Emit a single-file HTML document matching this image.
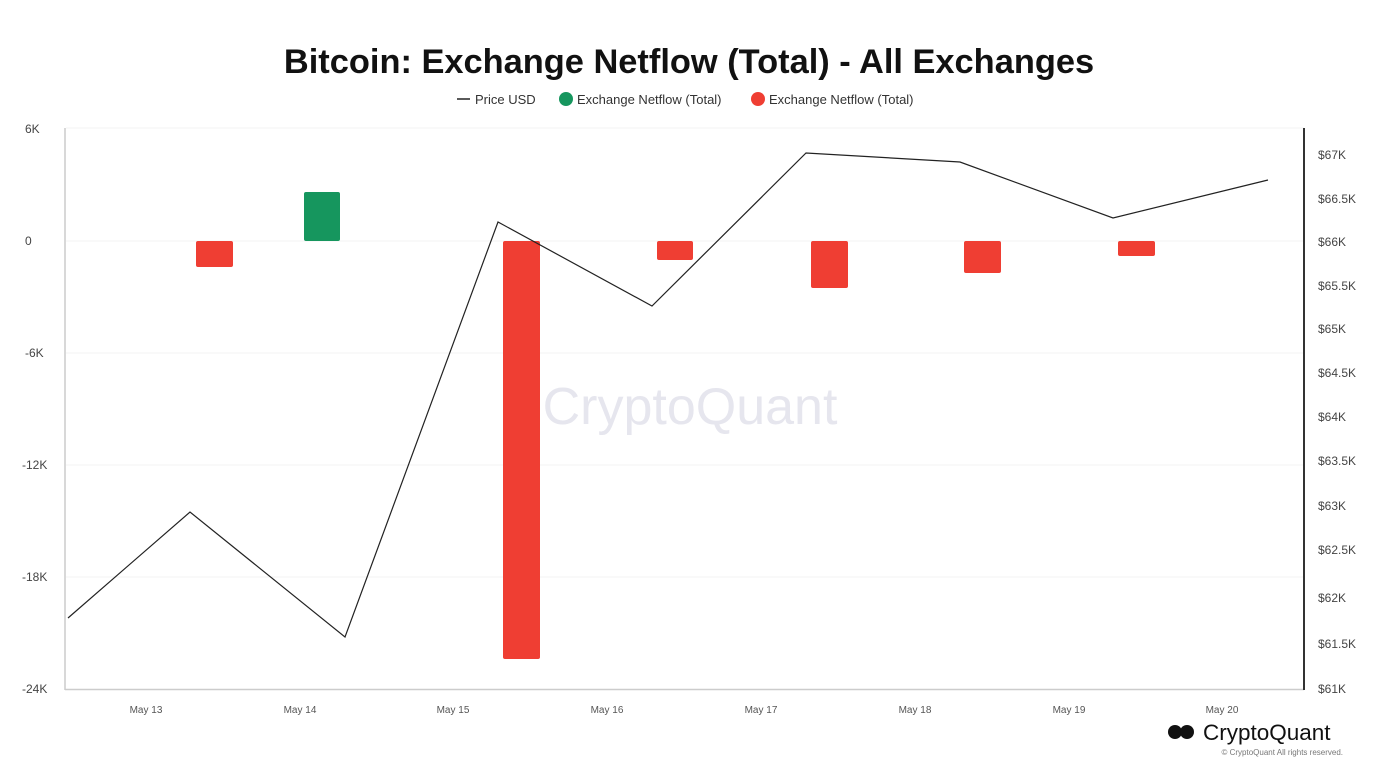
<!DOCTYPE html><html><head><style>body{margin:0;background:#fff}svg{display:block;font-family:"Liberation Sans",sans-serif}</style></head><body>
<svg width="1379" height="776" viewBox="0 0 1379 776">
<text x="689" y="73" text-anchor="middle" font-size="34.4" font-weight="bold" fill="#111">Bitcoin: Exchange Netflow (Total) - All Exchanges</text>
<line x1="457" y1="99" x2="470" y2="99" stroke="#222" stroke-width="1.5"/>
<text x="475" y="104" font-size="13" fill="#333">Price USD</text>
<circle cx="566" cy="99" r="7" fill="#16965e"/>
<text x="577" y="104" font-size="13" fill="#333">Exchange Netflow (Total)</text>
<circle cx="758" cy="99" r="7" fill="#ef3e33"/>
<text x="769" y="104" font-size="13" fill="#333">Exchange Netflow (Total)</text>
<g stroke="#f3f3f3" stroke-width="1">
<line x1="66" y1="128" x2="1304" y2="128"/><line x1="66" y1="241" x2="1304" y2="241"/><line x1="66" y1="353" x2="1304" y2="353"/><line x1="66" y1="465" x2="1304" y2="465"/><line x1="66" y1="577" x2="1304" y2="577"/></g>
<line x1="65" y1="128" x2="65" y2="690" stroke="#ccc" stroke-width="1.5"/>
<line x1="65" y1="689.5" x2="1304" y2="689.5" stroke="#ccc" stroke-width="1.5"/>
<line x1="1304" y1="128" x2="1304" y2="690" stroke="#333" stroke-width="2"/>
<g font-size="12" fill="#444">
<text x="25" y="133">6K</text><text x="25" y="245">0</text><text x="25" y="357">-6K</text><text x="22" y="469">-12K</text><text x="22" y="581">-18K</text><text x="22" y="693">-24K</text>
<text x="1318" y="159">$67K</text><text x="1318" y="203">$66.5K</text><text x="1318" y="246">$66K</text><text x="1318" y="290">$65.5K</text><text x="1318" y="333">$65K</text><text x="1318" y="377">$64.5K</text><text x="1318" y="421">$64K</text><text x="1318" y="465">$63.5K</text><text x="1318" y="510">$63K</text><text x="1318" y="554">$62.5K</text><text x="1318" y="602">$62K</text><text x="1318" y="648">$61.5K</text><text x="1318" y="693">$61K</text>
</g>
<g font-size="10" fill="#555" text-anchor="middle">
<text x="146" y="713">May 13</text><text x="300" y="713">May 14</text><text x="453" y="713">May 15</text><text x="607" y="713">May 16</text><text x="761" y="713">May 17</text><text x="915" y="713">May 18</text><text x="1069" y="713">May 19</text><text x="1222" y="713">May 20</text></g>
<text x="690" y="424" text-anchor="middle" font-size="52" fill="#e6e6ee">CryptoQuant</text>
<g fill="#ef3e33">
<rect x="196" y="241" width="37" height="26" rx="2"/><rect x="503" y="241" width="37" height="418" rx="2"/><rect x="657" y="241" width="36" height="19" rx="2"/><rect x="811" y="241" width="37" height="47" rx="2"/><rect x="964" y="241" width="37" height="32" rx="2"/><rect x="1118" y="241" width="37" height="15" rx="2"/></g>
<rect x="304" y="192" width="36" height="49" rx="2" fill="#16965e"/>
<polyline fill="none" stroke="#222" stroke-width="1.2" points="68,618 190,512 345,637 498,222 652,306 806,153 960,162 1113,218 1268,180"/>
<circle cx="1175" cy="732" r="7" fill="#111"/><circle cx="1187" cy="732" r="7" fill="#111"/>
<text x="1203" y="740" font-size="22.5" fill="#111">CryptoQuant</text>
<text x="1343" y="755" text-anchor="end" font-size="8" fill="#777">© CryptoQuant All rights reserved.</text>
</svg></body></html>
